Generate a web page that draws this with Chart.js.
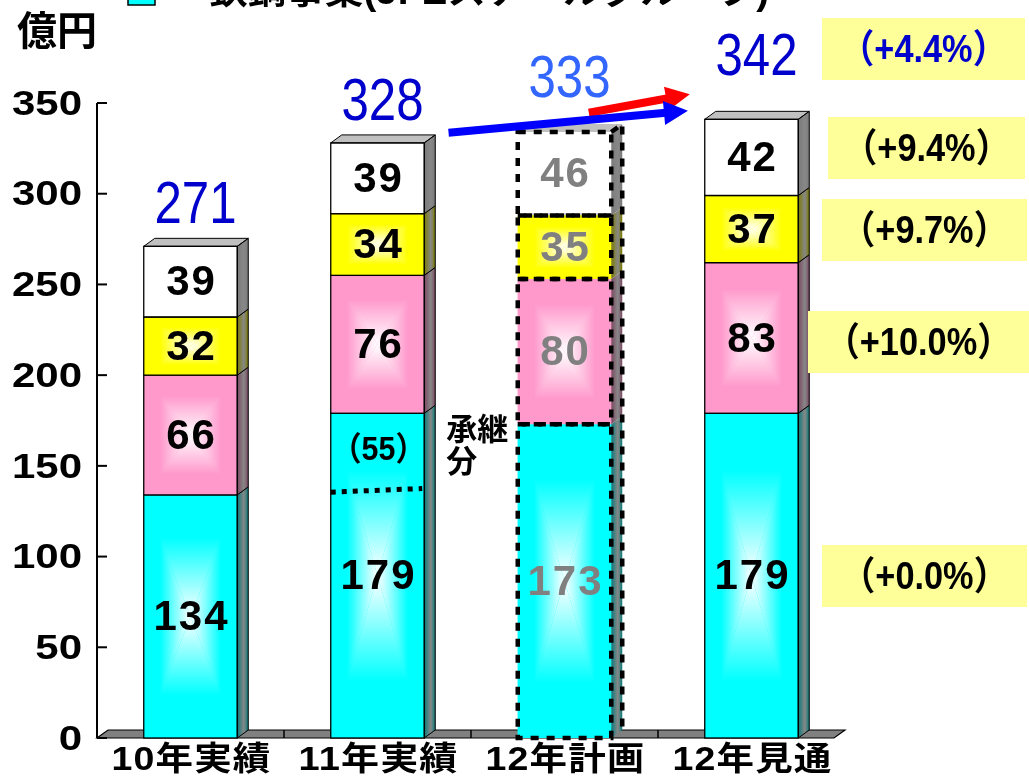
<!DOCTYPE html>
<html>
<head>
<meta charset="utf-8">
<script src="https://cdn.jsdelivr.net/npm/chart.js@4/dist/chart.umd.min.js"></script>
<style>
  html, body { margin: 0; padding: 0; background: #ffffff; overflow: hidden; }
  #wrap { position: relative; width: 1029px; height: 779px; }
</style>
</head>
<body>
<div id="wrap"><canvas id="c" width="1029" height="779"></canvas></div>
<script>
// ---- data ----
const categories = ['10年実績', '11年実績', '12年計画', '12年見通'];
const steelValues = [134, 179, 173, 179];   // 鉄鋼事業 (bottom, cyan)
const pinkValues = [66, 76, 80, 83];
const yellowValues = [32, 34, 35, 37];
const whiteValues = [39, 39, 46, 42];
const totals = [271, 328, 333, 342];
const yTicks = [0, 50, 100, 150, 200, 250, 300, 350];
const changeLabels = ['（+4.4%）', '（+9.4%）', '（+9.7%）', '（+10.0%）', '（+0.0%）'];
const legendLabel = '鉄鋼事業(JFEスチールグループ)';
const unitLabel = '億円';
const carriedNote = '（55）';
const carriedNoteValue = 158;
const carriedLineValues = [135.5, 137.5];
const successionNote = ['承継', '分'];
const planIndex = 2;

// ---- styles / layout ----
const DX = 11, DY = -8;
const LATIN = '"Liberation Sans", Arial, sans-serif';
const CJK = '"Liberation Sans", "Noto Sans CJK JP", sans-serif';
const faceColors = ['#00FFFF', '#FF99CC', '#FFFF00', '#FFFFFF'];
const sideColors = ['#087A7A', '#7C4862', '#7A7A00', '#7A7A7A'];
const topColor = '#C0C0C0';
const totalColors = ['#0000CC', '#0000CC', '#3366FF', '#0000CC'];
const totalLift = [23, 23, 35, 44];
const changeBoxes = [
  { l: 822, r: 1025, cy: 49, color: '#0000CC' },
  { l: 828, r: 1025, cy: 148, color: '#000000' },
  { l: 822, r: 1027, cy: 230, color: '#000000' },
  { l: 808, r: 1029, cy: 342, color: '#000000' },
  { l: 822, r: 1027, cy: 576, color: '#000000' }
];
const trendArrows = [
  { from: [2.13, 344.6], to: [2.67, 354.8], color: '#FF0000' },
  { from: [1.38, 333.6], to: [2.66, 345.7], color: '#0000FF' }
];

function poly(ctx, pts) {
  ctx.beginPath();
  ctx.moveTo(pts[0][0], pts[0][1]);
  for (let i = 1; i < pts.length; i++) ctx.lineTo(pts[i][0], pts[i][1]);
  ctx.closePath();
}

// centre-out glow built from four wedges
function glow(ctx, l, t, r, b, color) {
  const cx = (l + r) / 2, cy = (t + b) / 2;
  const wedges = [
    [[[l, t], [r, t], [cx, cy]], [cx, t, cx, cy]],
    [[[l, b], [r, b], [cx, cy]], [cx, b, cx, cy]],
    [[[l, t], [l, b], [cx, cy]], [l, cy, cx, cy]],
    [[[r, t], [r, b], [cx, cy]], [r, cy, cx, cy]]
  ];
  wedges.forEach(([pts, g]) => {
    const grad = ctx.createLinearGradient(g[0], g[1], g[2], g[3]);
    grad.addColorStop(0, color);
    grad.addColorStop(0.35, color);
    grad.addColorStop(1, '#FFFFFF');
    ctx.fillStyle = grad;
    poly(ctx, pts);
    ctx.fill();
  });
}

function sideFace(ctx, r, t, b, color) {
  const grad = ctx.createLinearGradient(r, 0, r + DX, 0);
  grad.addColorStop(0, color);
  grad.addColorStop(0.6, '#888888');
  grad.addColorStop(1, color);
  ctx.fillStyle = grad;
  poly(ctx, [[r, t], [r + DX, t + DY], [r + DX, b + DY], [r, b]]);
  ctx.fill();
}

function arrow(ctx, x0, y0, x1, y1, color) {
  const lw = 8, headLen = 24, headHalf = 12;
  const a = Math.atan2(y1 - y0, x1 - x0);
  const bx = x1 - headLen * Math.cos(a), by = y1 - headLen * Math.sin(a);
  ctx.strokeStyle = color;
  ctx.lineWidth = lw;
  ctx.lineCap = 'butt';
  ctx.beginPath();
  ctx.moveTo(x0, y0);
  ctx.lineTo(bx + 2 * Math.cos(a), by + 2 * Math.sin(a));
  ctx.stroke();
  ctx.fillStyle = color;
  ctx.beginPath();
  ctx.moveTo(x1, y1);
  ctx.lineTo(bx + headHalf * Math.sin(a), by - headHalf * Math.cos(a));
  ctx.lineTo(bx - headHalf * Math.sin(a), by + headHalf * Math.cos(a));
  ctx.closePath();
  ctx.fill();
}

// text squeezed or widened horizontally around its anchor
function scaledText(ctx, text, x, y, sx, align) {
  ctx.save();
  ctx.translate(x, y);
  ctx.scale(sx, 1);
  ctx.textAlign = align;
  ctx.fillText(text, 0, 0);
  ctx.restore();
}

function barRect(bar) {
  const p = bar.getProps(['x', 'y', 'base', 'width'], true);
  return {
    x: p.x,
    l: p.x - p.width / 2,
    r: p.x + p.width / 2,
    t: Math.min(p.y, p.base),
    b: Math.max(p.y, p.base)
  };
}

const boxes3d = {
  id: 'boxes3d',
  beforeDatasetsDraw(chart) {
    const { ctx, chartArea: a, scales: { x } } = chart;
    ctx.save();
    // floor slab
    poly(ctx, [[a.left, a.bottom], [a.right - DX, a.bottom], [a.right, a.bottom + DY], [a.left + DX, a.bottom + DY]]);
    ctx.fillStyle = '#808080';
    ctx.fill();
    ctx.strokeStyle = '#000';
    ctx.lineWidth = 1.2;
    ctx.stroke();
    const step = x.getPixelForValue(1) - x.getPixelForValue(0);
    ctx.lineWidth = 1.5;
    for (let k = 1; k < categories.length; k++) {
      const px = x.getPixelForValue(k) - step / 2;
      ctx.beginPath();
      ctx.moveTo(px, a.bottom + DY);
      ctx.lineTo(px, a.bottom);
      ctx.stroke();
    }
    ctx.restore();
  },
  afterDatasetsDraw(chart) {
    const { ctx } = chart;
    const nSets = chart.data.datasets.length;
    ctx.save();
    for (let di = 0; di < nSets; di++) {
      const meta = chart.getDatasetMeta(di);
      meta.data.forEach((bar, i) => {
        const q = barRect(bar);
        if (di < 3) glow(ctx, q.l, q.t, q.r, q.b, faceColors[di]);
        sideFace(ctx, q.r, q.t, q.b, sideColors[di]);
        if (di === nSets - 1) {
          ctx.fillStyle = topColor;
          poly(ctx, [[q.l, q.t], [q.l + DX, q.t + DY], [q.r + DX, q.t + DY], [q.r, q.t]]);
          ctx.fill();
        }
        if (i !== planIndex) {
          ctx.strokeStyle = '#000';
          ctx.lineWidth = 1.3;
          ctx.strokeRect(q.l, q.t, q.r - q.l, q.b - q.t);
          poly(ctx, [[q.r, q.t], [q.r + DX, q.t + DY], [q.r + DX, q.b + DY], [q.r, q.b]]);
          ctx.lineWidth = 1;
          ctx.stroke();
          if (di === nSets - 1) {
            poly(ctx, [[q.l, q.t], [q.l + DX, q.t + DY], [q.r + DX, q.t + DY], [q.r, q.t]]);
            ctx.stroke();
          }
        }
      });
    }
    // dashed outline for the plan column
    ctx.strokeStyle = '#000';
    ctx.lineWidth = 4.5;
    ctx.setLineDash([8, 8]);
    let top = Infinity, bottom = -Infinity, right = 0;
    for (let di = 0; di < nSets; di++) {
      const q = barRect(chart.getDatasetMeta(di).data[planIndex]);
      ctx.strokeRect(q.l, q.t, q.r - q.l, q.b - q.t);
      top = Math.min(top, q.t);
      bottom = Math.max(bottom, q.b);
      right = q.r;
    }
    ctx.beginPath();
    ctx.moveTo(right, top);
    ctx.lineTo(right + DX, top + DY);
    ctx.lineTo(right + DX, bottom + DY);
    ctx.stroke();
    ctx.setLineDash([]);
    ctx.restore();
  },
  afterDraw(chart) {
    const { ctx, chartArea: a, scales: { x, y } } = chart;
    ctx.save();

    // value axis
    ctx.strokeStyle = '#000';
    ctx.lineWidth = 2;
    ctx.beginPath();
    ctx.moveTo(a.left, a.top);
    ctx.lineTo(a.left, a.bottom);
    ctx.stroke();
    ctx.font = 'bold 35px ' + LATIN;
    ctx.fillStyle = '#000';
    ctx.textBaseline = 'middle';
    yTicks.forEach(v => {
      const py = y.getPixelForValue(v);
      ctx.beginPath();
      ctx.moveTo(a.left, py);
      ctx.lineTo(a.left + 10, py);
      ctx.stroke();
      scaledText(ctx, String(v), 82, py + 2, 1.2, 'right');
    });

    // category labels
    ctx.font = 'bold 33px ' + CJK;
    ctx.letterSpacing = '1px';
    categories.forEach((c, i) => {
      const w = ctx.measureText(c).width;
      scaledText(ctx, c, x.getPixelForValue(i) + 1, 761, 160 / w, 'center');
    });
    ctx.letterSpacing = '0px';

    // segment values
    const nSets = chart.data.datasets.length;
    ctx.font = 'bold 42px ' + LATIN;
    ctx.letterSpacing = '2px';
    ctx.textAlign = 'center';
    ctx.textBaseline = 'middle';
    for (let di = 0; di < nSets; di++) {
      const ds = chart.data.datasets[di];
      chart.getDatasetMeta(di).data.forEach((bar, i) => {
        const q = barRect(bar);
        ctx.fillStyle = i === planIndex ? '#808080' : '#000';
        ctx.fillText(String(ds.data[i]), q.x + 1, (q.t + q.b) / 2 + 2);
      });
    }
    ctx.letterSpacing = '0px';

    // totals above columns
    ctx.font = '60px ' + LATIN;
    ctx.textBaseline = 'alphabetic';
    totals.forEach((v, i) => {
      const q = barRect(chart.getDatasetMeta(nSets - 1).data[i]);
      ctx.fillStyle = totalColors[i];
      scaledText(ctx, String(v), q.x + 5, q.t - totalLift[i], 0.82, 'center');
    });

    // trend arrows
    const step = x.getPixelForValue(1) - x.getPixelForValue(0);
    const px = idx => x.getPixelForValue(0) + idx * step;
    trendArrows.forEach(t => {
      arrow(ctx, px(t.from[0]), y.getPixelForValue(t.from[1]), px(t.to[0]), y.getPixelForValue(t.to[1]), t.color);
    });

    // previous-year carried amount inside 11年実績
    const q1 = barRect(chart.getDatasetMeta(0).data[1]);
    ctx.font = 'bold 33px ' + CJK;
    ctx.fillStyle = '#000';
    ctx.textBaseline = 'middle';
    scaledText(ctx, carriedNote, q1.x + 1, y.getPixelForValue(carriedNoteValue), 0.92, 'center');
    ctx.strokeStyle = '#000';
    ctx.lineWidth = 5;
    ctx.setLineDash([5, 6]);
    ctx.beginPath();
    ctx.moveTo(q1.l, y.getPixelForValue(carriedLineValues[0]));
    ctx.lineTo(q1.r - 2, y.getPixelForValue(carriedLineValues[1]));
    ctx.stroke();
    ctx.setLineDash([]);

    // 承継分 note
    ctx.font = 'bold 31px ' + CJK;
    ctx.textAlign = 'left';
    const ny = y.getPixelForValue(169);
    successionNote.forEach((s, k) => ctx.fillText(s, q1.r + DX + 11, ny + k * 32));

    // growth-rate boxes
    ctx.font = 'bold 39px ' + CJK;
    changeLabels.forEach((s, k) => {
      const bx = changeBoxes[k];
      ctx.fillStyle = '#FFFF99';
      ctx.fillRect(bx.l, bx.cy - 31, bx.r - bx.l, 62);
      ctx.fillStyle = bx.color;
      scaledText(ctx, s, (bx.l + bx.r) / 2, bx.cy + 2, 0.88, 'center');
    });

    // unit
    ctx.font = 'bold 40px ' + CJK;
    ctx.fillStyle = '#000';
    ctx.textAlign = 'left';
    ctx.fillText(unitLabel, 17, 34);

    // legend entry (runs off the top edge)
    ctx.fillStyle = faceColors[0];
    ctx.fillRect(128, -22, 27, 27);
    ctx.strokeStyle = '#000';
    ctx.lineWidth = 1.5;
    ctx.strokeRect(128, -22, 27, 27);
    ctx.font = 'bold 36px ' + CJK;
    ctx.textBaseline = 'alphabetic';
    const w = ctx.measureText(legendLabel).width;
    ctx.fillStyle = '#000';
    scaledText(ctx, legendLabel, 209, 4, 560 / w, 'left');

    ctx.restore();
  }
};

const chart = new Chart(document.getElementById('c').getContext('2d'), {
  type: 'bar',
  data: {
    labels: categories,
    datasets: [
      { label: legendLabel, data: steelValues, backgroundColor: faceColors[0] },
      { label: '事業B', data: pinkValues, backgroundColor: faceColors[1] },
      { label: '事業C', data: yellowValues, backgroundColor: faceColors[2] },
      { label: '事業D', data: whiteValues, backgroundColor: faceColors[3] }
    ]
  },
  options: {
    responsive: false,
    animation: false,
    layout: { padding: { top: 103, right: 184, left: 0, bottom: 0 } },
    datasets: { bar: { categoryPercentage: 1, barPercentage: 0.5, borderWidth: 0 } },
    plugins: { legend: { display: false }, tooltip: { enabled: false } },
    scales: {
      x: {
        stacked: true,
        grid: { display: false, drawTicks: false },
        border: { display: false },
        ticks: { display: false },
        afterFit(s) { s.height = 41; }
      },
      y: {
        stacked: true,
        min: 0,
        max: 350,
        grid: { display: false, drawTicks: false },
        border: { display: false },
        ticks: { display: false, stepSize: 50 },
        afterFit(s) { s.width = 97; }
      }
    }
  },
  plugins: [boxes3d]
});
</script>
</body>
</html>
